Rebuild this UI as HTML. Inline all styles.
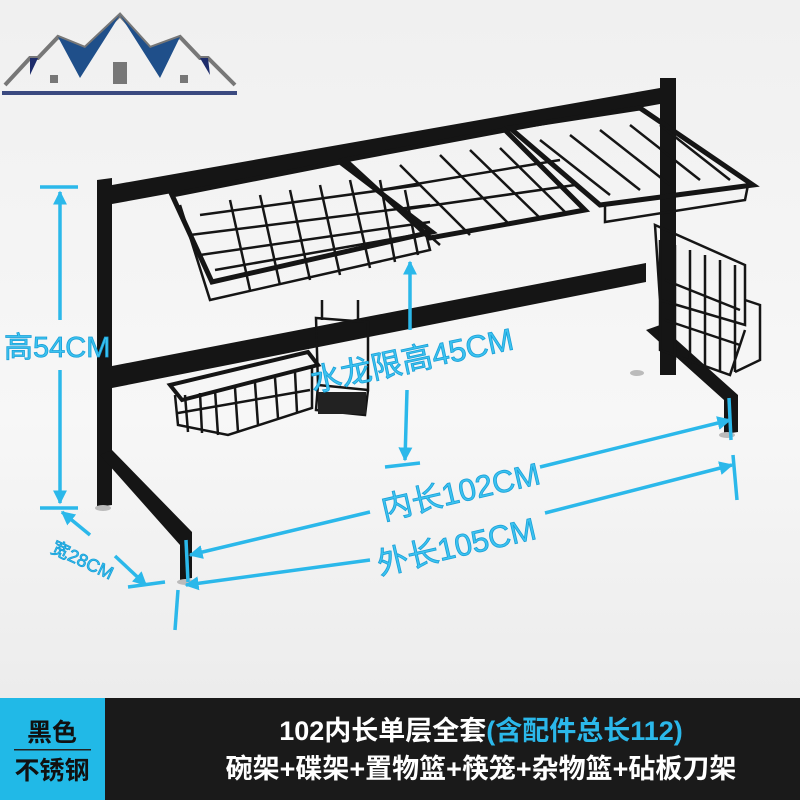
<!DOCTYPE html>
<html><head><meta charset="utf-8"><style>
html,body{margin:0;padding:0;width:800px;height:800px;overflow:hidden;background:#f3f3f3}
svg{display:block}
.t{font-family:"Liberation Sans","Noto Sans CJK SC",sans-serif;fill:#3cc3f0;stroke:#1aa0d8;stroke-width:0.8;font-size:31px}
</style></head><body>
<svg width="800" height="800" viewBox="0 0 800 800" xmlns="http://www.w3.org/2000/svg">
<defs><linearGradient id="bg" x1="0" y1="0" x2="0" y2="1"><stop offset="0" stop-color="#f0f0f0"/><stop offset="0.6" stop-color="#f7f7f7"/><stop offset="1" stop-color="#ececec"/></linearGradient>
<marker id="ah" viewBox="0 0 10 10" refX="9" refY="5" markerWidth="4" markerHeight="4" orient="auto-start-reverse"><path d="M0,0 L10,5 L0,10z" fill="#2bb8ea"/></marker></defs>
<rect width="800" height="698" fill="url(#bg)"/>
<g>
<path d="M5,85 L30,58 L38,58 L58,37 L85,48 L120,15 L150,48 L180,37 L200,58 L208,58 L235,85" fill="none" stroke="#777" stroke-width="4"/>
<path d="M58,37 L85,48 L120,15 L80,78z" fill="#1f4f8a"/><path d="M120,15 L150,48 L180,37 L160,78z" fill="#1f4f8a"/>
<path d="M30,58 L38,58 L30,75z" fill="#1d2c6b"/><path d="M200,58 L208,58 L210,75z" fill="#1d2c6b"/>
<rect x="113" y="62" width="14" height="22" fill="#777"/><rect x="50" y="75" width="8" height="8" fill="#777"/><rect x="180" y="75" width="8" height="8" fill="#777"/>
<rect x="2" y="91" width="235" height="4" fill="#3b4a80"/>
</g>
<g fill="#151515" stroke="none">
<polygon points="97,180 112,178 112,505 97,507"/>
<polygon points="100,455 112,450 192,532 192,578 180,580 180,545"/>
<polygon points="660,78 676,78 676,375 660,375"/>
<polygon points="646,330 660,325 738,395 738,432 724,434 724,400"/>
<polygon points="112,185 660,88 660,104 112,204"/>
<polygon points="112,366 646,263 646,282 112,388"/>
</g>
<ellipse cx="103" cy="508" rx="8" ry="3" fill="#bbb"/><ellipse cx="186" cy="582" rx="9" ry="3" fill="#bbb"/><ellipse cx="637" cy="373" rx="7" ry="3" fill="#bbb"/><ellipse cx="727" cy="435" rx="8" ry="3" fill="#bbb"/>
<g fill="none" stroke="#151515" stroke-width="2.5">
<path d="M172,195 L340,162 L432,232 L212,282z" stroke-width="5"/>
<path d="M180,205 L210,300 L430,250 L425,230"/>
<path d="M200,215 L420,185 M190,235 L430,205 M200,255 L430,222 M215,270 L432,232"/>
<path d="M230,200 L250,290 M260,195 L280,285 M290,190 L310,280 M320,185 L340,275 M350,180 L370,268 M380,180 L395,262 M405,190 L418,255"/>
<path d="M345,160 L505,130 L585,210 L430,238z" stroke-width="5"/>
<path d="M360,175 L440,245 M400,165 L470,235 M440,155 L510,225 M470,150 L540,218 M500,148 L565,212"/>
<path d="M380,190 L560,160 M400,210 L575,185"/>
<path d="M510,128 L640,108 L753,185 L600,205z" stroke-width="5"/>
<path d="M540,140 L610,195 M570,135 L640,190 M600,130 L670,185 M630,125 L700,180 M660,125 L730,180"/>
<path d="M605,205 L605,222 L745,200 L748,185" />
<path d="M655,225 L745,265 L745,325 L660,300z M660,240 L660,350 L730,375 L745,330 M675,245 L675,360 M690,250 L690,365 M705,255 L705,370 M720,260 L720,372 M735,265 L735,372 M665,280 L740,310 M665,320 L740,345" />
<path d="M745,300 L760,305 L760,360 L735,372"/>
<path d="M170,385 L308,352 L318,365 L182,400z" stroke-width="4"/>
<path d="M175,395 L178,425 L228,435 L312,408 L312,368 M185,395 L188,432 M200,393 L202,433 M215,390 L218,435 M235,388 L238,432 M255,383 L258,425 M275,378 L278,418 M295,372 L297,412 M178,413 L310,390"/>
<path d="M316,318 L368,322 L368,390 L318,385z M318,385 L316,410 L365,415 L368,390 M322,300 L322,320 M358,300 L358,322"/>
</g>
<rect x="318" y="392" width="48" height="22" fill="#222"/>
<g stroke="#2bb8ea" stroke-width="3.5" fill="none">
<line x1="60" y1="192" x2="60" y2="320" marker-start="url(#ah)"/>
<line x1="60" y1="370" x2="60" y2="503" marker-end="url(#ah)"/>
<line x1="40" y1="187" x2="78" y2="187"/><line x1="40" y1="508" x2="78" y2="508"/>
<line x1="410" y1="262" x2="410" y2="330" marker-start="url(#ah)"/>
<line x1="407" y1="390" x2="405" y2="460" marker-end="url(#ah)"/>
<line x1="385" y1="467" x2="420" y2="463"/>
<line x1="190" y1="555" x2="370" y2="512" marker-start="url(#ah)"/>
<line x1="540" y1="467" x2="730" y2="420" marker-end="url(#ah)"/>
<line x1="186" y1="585" x2="370" y2="560" marker-start="url(#ah)"/>
<line x1="545" y1="513" x2="732" y2="465" marker-end="url(#ah)"/>
<line x1="178" y1="590" x2="175" y2="630"/><line x1="733" y1="455" x2="737" y2="500"/>
<line x1="186" y1="540" x2="188" y2="582"/><line x1="729" y1="398" x2="731" y2="440"/>
<line x1="62" y1="512" x2="90" y2="535" marker-start="url(#ah)"/>
<line x1="115" y1="556" x2="146" y2="585" marker-end="url(#ah)"/>
<line x1="128" y1="587" x2="165" y2="582"/>
</g>
<text class="t" x="4" y="357" style="font-size:29px">高54CM</text>
<text class="t" transform="translate(313,392) rotate(-12)">水龙限高45CM</text>
<text class="t" transform="translate(384,520) rotate(-13)">内长102CM</text>
<text class="t" transform="translate(380,575) rotate(-13)">外长105CM</text>
<text class="t" transform="translate(50,552) rotate(25)" style="font-size:18px">宽28CM</text>
<rect x="0" y="698" width="105" height="102" fill="#21b9e7"/>
<rect x="105" y="698" width="695" height="102" fill="#1a1a1a"/>
<rect x="14" y="749" width="77" height="1.5" fill="#222"/>
<g font-family="'Liberation Sans','Noto Sans CJK SC',sans-serif" font-weight="bold">
<text x="52" y="741" font-size="25" text-anchor="middle" fill="#111">黑色</text>
<text x="52" y="779" font-size="25" text-anchor="middle" fill="#111">不锈钢</text>
<text x="481" y="740" font-size="27" text-anchor="middle" fill="#fff">102内长单层全套<tspan fill="#2bb8ea">(含配件总长112)</tspan></text>
<text x="481" y="778" font-size="27" text-anchor="middle" fill="#fff">碗架+碟架+置物篮+筷笼+杂物篮+砧板刀架</text>
</g>
</svg>
</body></html>
